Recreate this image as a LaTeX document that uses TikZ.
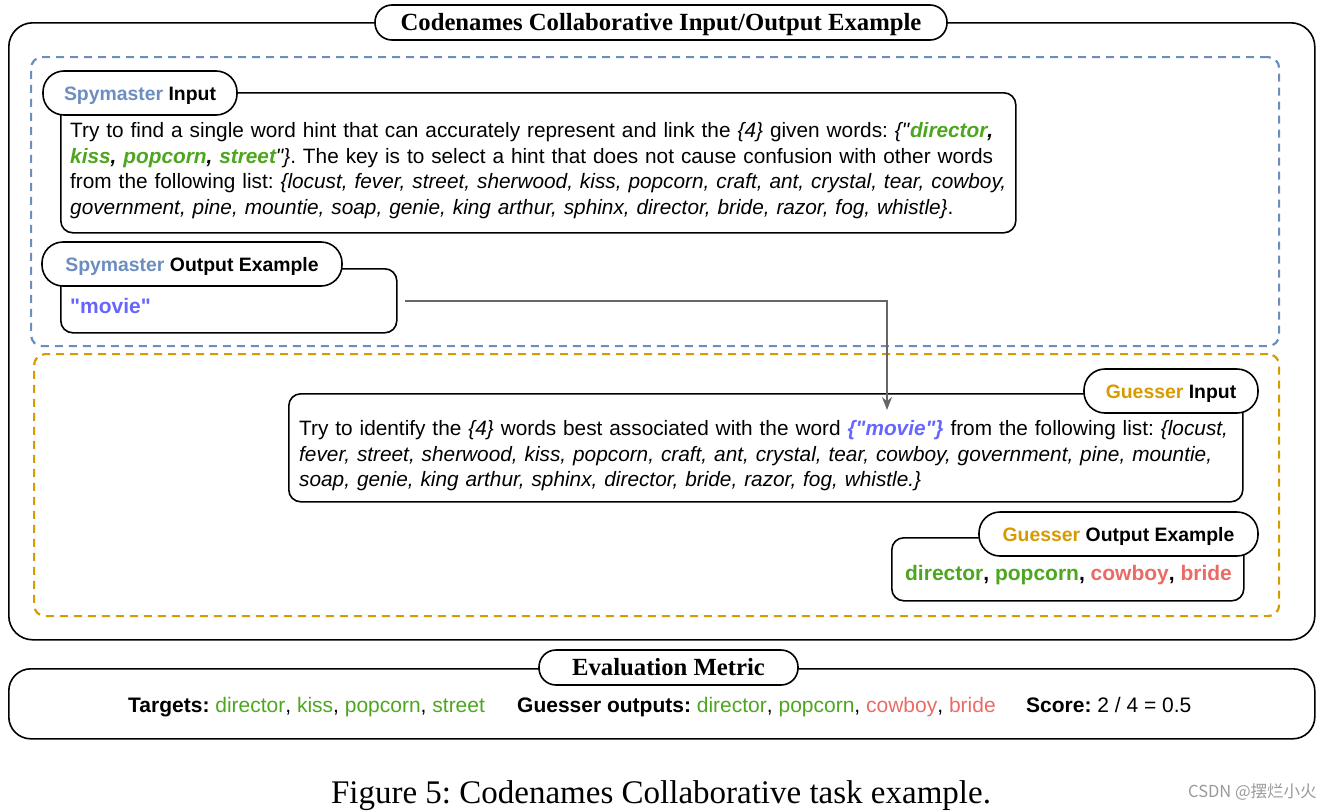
\documentclass[tikz,border=0pt]{standalone}
\usepackage{fontspec}
\setmainfont{Liberation Serif}
\setsansfont{Liberation Sans}[Ligatures=TeXOff]
\newfontfamily\cjkfont{Noto Sans CJK SC}
\usetikzlibrary{arrows.meta}
\frenchspacing
\definecolor{spyblue}{HTML}{6C8EBF}
\definecolor{guessorange}{HTML}{D79B00}
\definecolor{okgreen}{HTML}{4DA61F}
\definecolor{badred}{HTML}{EA6B66}
\definecolor{movieblue}{HTML}{6666FF}
\definecolor{arrowgray}{HTML}{666666}
\definecolor{wmgray}{HTML}{9A9A9A}
\newcommand{\gw}[1]{\textcolor{okgreen}{#1}}
\newcommand{\rw}[1]{\textcolor{badred}{#1}}
\newcommand{\bodyfont}{\sffamily\fontsize{20.8}{25.55}\selectfont}
\begin{document}
\begin{tikzpicture}[x=1pt,y=-1pt,
  outerbox/.style={draw=black, line width=1.6pt, rounded corners=24pt, inner sep=0, anchor=north west},
  region/.style={line width=2.2pt, dash pattern=on 8pt off 6pt, rounded corners=11pt, inner sep=0, anchor=north west},
  msgbox/.style={draw=black, line width=1.6pt, rounded corners=12pt, inner sep=0, anchor=north west},
  pill/.style={draw=black, line width=1.6pt, fill=white, rounded corners=21pt, inner sep=0, text height=14pt, text depth=0pt, font=\sffamily\bfseries\fontsize{19.4}{23}\selectfont},
  titlepill/.style={draw=black, line width=1.6pt, fill=white, rounded corners=17pt, inner sep=0, text height=16.4pt, text depth=0pt, font=\rmfamily\bfseries\fontsize{24.7}{28}\selectfont},
  bodytext/.style={inner sep=0, anchor=north west, text width=1000pt, align=left, font=\bodyfont},
  evaltext/.style={inner sep=0, anchor=base west, font=\sffamily\fontsize{21}{24}\selectfont},
  flow/.style={draw=arrowgray, line width=1.5pt, -{Stealth[length=13pt,width=10pt]}}
]
\useasboundingbox (0,0) rectangle (1340,811);

% outer frame
\node[outerbox, minimum width=1306pt, minimum height=617pt] (outer) at (8,22) {};
\node[titlepill, minimum width=572pt, minimum height=35pt] (title) at (661,22.5) {Codenames Collaborative Input/Output Example};

% regions
\node[region, draw=spyblue, minimum width=1248pt, minimum height=289pt] (spyregion) at (30,56) {};
\node[region, draw=guessorange, minimum width=1245pt, minimum height=262pt] (guessregion) at (33,353) {};

% Spymaster input
\node[msgbox, minimum width=955pt, minimum height=140pt] (spinbox) at (60,92) {};
\node[pill, minimum width=194pt, minimum height=44pt] (spinlabel) at (140,93) {\textcolor{spyblue}{Spymaster} Input};
\node[bodytext] (spintext) at (70,119.4) {\strut Try to find a single word hint that can accurately represent and link the \textit{\{4\}} given words: \textit{\{"}\textbf{\textit{\gw{director},}}\\
\textbf{\textit{\gw{kiss}, \gw{popcorn}, \gw{street}}}\textit{"\}}. The key is to select a hint that does not cause confusion with other words\\
from the following list: \textit{\{locust, fever, street, sherwood, kiss, popcorn, craft, ant, crystal, tear, cowboy,}\\
\textit{government, pine, mountie, soap, genie, king arthur, sphinx, director, bride, razor, fog, whistle\}}.};

% Spymaster output
\node[msgbox, minimum width=336pt, minimum height=64pt] (spoutbox) at (60,268) {};
\node[pill, minimum width=300pt, minimum height=44pt] (spoutlabel) at (192,264) {\textcolor{spyblue}{Spymaster} Output Example};
\node[inner sep=0, anchor=base west, font=\sffamily\bfseries\fontsize{21}{25}\selectfont, text=movieblue] (spouttext) at (70,313.5) {"movie"};

% Guesser input
\node[msgbox, minimum width=954pt, minimum height=108pt] (gibox) at (288,393) {};
\node[pill, minimum width=174pt, minimum height=44pt] (gilabel) at (1171,391) {\textcolor{guessorange}{Guesser} Input};
\node[bodytext] (gitext) at (299,417.4) {\strut Try to identify the \textit{\{4\}} words best associated with the word \textcolor{movieblue}{\textbf{\textit{\{"movie"\}}}} from the following list: \textit{\{locust,}\\
\textit{fever, street, sherwood, kiss, popcorn, craft, ant, crystal, tear, cowboy, government, pine, mountie,}\\
\textit{soap, genie, king arthur, sphinx, director, bride, razor, fog, whistle.\}}};

% Guesser output
\node[msgbox, minimum width=352pt, minimum height=63pt] (gobox) at (891,537) {};
\node[pill, minimum width=279pt, minimum height=44pt] (golabel) at (1118.5,534) {\textcolor{guessorange}{Guesser} Output Example};
\node[inner sep=0, anchor=base, font=\sffamily\bfseries\fontsize{21}{25}\selectfont] (gotext) at (1068.5,580) {\gw{director}, \gw{popcorn}, \rw{cowboy}, \rw{bride}};

% connector
\coordinate (arrowend) at (887,410);
\draw[flow] ([xshift=7pt]spoutbox.east) -| (arrowend);

% Evaluation metric
\node[outerbox, rounded corners=22pt, minimum width=1306pt, minimum height=70pt] (evalbox) at (8,668) {};
\node[titlepill, minimum width=259pt, minimum height=35pt] (evaltitle) at (668.5,667.5) {Evaluation Metric};
\node[evaltext] (targets) at (128,712.5) {\textbf{Targets:} \gw{director}, \gw{kiss}, \gw{popcorn}, \gw{street}};
\node[evaltext] (outputs) at (517,712.5) {\textbf{Guesser outputs:} \gw{director}, \gw{popcorn}, \rw{cowboy}, \rw{bride}};
\node[evaltext] (score) at (1026,712.5) {\textbf{Score:} 2 / 4 = 0.5};

% caption
\node[inner sep=0, anchor=base, font=\rmfamily\fontsize{33}{38}\selectfont] (caption) at (661,803) {Figure 5: Codenames Collaborative task example.};
\node[inner sep=0, anchor=base west, font=\cjkfont\fontsize{16.5}{20}\selectfont, text=wmgray] (watermark) at (1188,797) {CSDN @摆烂小火};
\end{tikzpicture}
\end{document}
